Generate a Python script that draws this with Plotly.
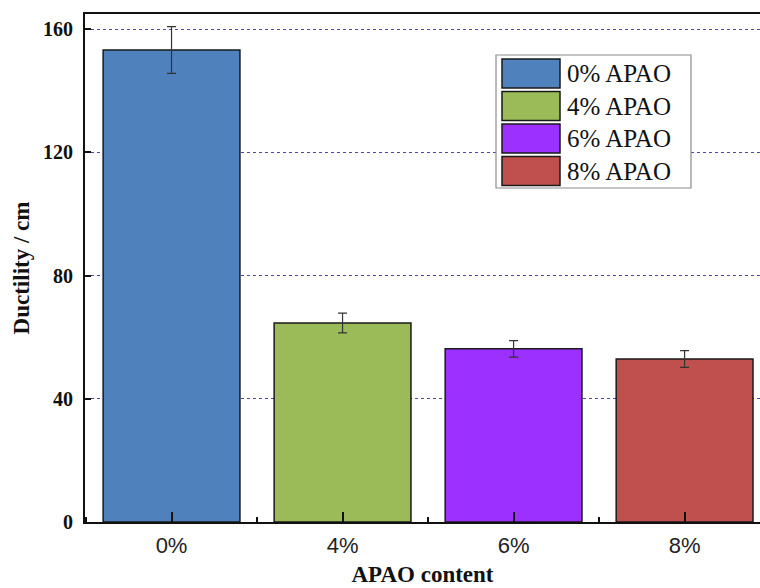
import plotly.graph_objects as go

# Ductility of asphalt binder vs APAO content
categories = ["0%", "4%", "6%", "8%"]
ductility = [153.2, 64.6, 56.2, 52.9]
ductility_err = [7.6, 3.2, 2.7, 2.7]
series_names = ["0% APAO", "4% APAO", "6% APAO", "8% APAO"]
bar_colors = ["#4f81bd", "#9bbb59", "#9b30ff", "#c0504d"]
y_ticks = [0, 40, 80, 120, 160]

W, H = 760, 588
ML, MR, MT, MB = 85, 0, 14, 66
PW, PH = W - ML - MR, H - MT - MB

serif = "Liberation Serif, Times New Roman, serif"
sans = "Liberation Sans, Arial, sans-serif"

fig = go.Figure()
fig.add_trace(go.Bar(
    x=list(range(len(categories))),
    y=ductility,
    width=0.8,
    marker=dict(color=bar_colors, line=dict(color="#1a1a1a", width=1.5)),
    error_y=dict(type="data", array=ductility_err, visible=True,
                 color="#333333", thickness=1.2, width=4.5),
    showlegend=False,
))


def px_x(px):
    return (px - ML) / PW


def px_y(py):
    return (MT + PH - py) / PH


# Legend box with large swatches
shapes = []
annotations = []
shapes.append(dict(type="rect", xref="paper", yref="paper",
                   x0=px_x(496), x1=px_x(691), y0=px_y(188), y1=px_y(55),
                   line=dict(color="#8c8c8c", width=1.2), fillcolor="white",
                   layer="above"))
row_top, row_h, pitch = 59, 29, 32.5
for i, (name, col) in enumerate(zip(series_names, bar_colors)):
    t = row_top + i * pitch
    shapes.append(dict(type="rect", xref="paper", yref="paper",
                       x0=px_x(502), x1=px_x(560), y0=px_y(t + row_h), y1=px_y(t),
                       line=dict(color="#1a1a1a", width=1.5), fillcolor=col,
                       layer="above"))
    annotations.append(dict(xref="paper", yref="paper", x=px_x(565),
                            y=px_y(t + row_h / 2), text=name, showarrow=False,
                            xanchor="left", yanchor="middle",
                            font=dict(family=serif, size=25, color="#111111")))

fig.update_layout(
    width=W, height=H,
    margin=dict(l=ML, r=MR, t=MT, b=MB),
    paper_bgcolor="white", plot_bgcolor="white",
    shapes=shapes, annotations=annotations,
    bargap=0.2,
)

fig.update_xaxes(
    range=[-0.506, 3.441], automargin=False,
    tickmode="array", tickvals=list(range(len(categories))), ticktext=categories,
    ticks="inside", ticklen=10, tickwidth=1.5, tickcolor="#111111",
    minor=dict(tickmode="linear", tick0=0.5, dtick=1, ticks="inside",
               ticklen=5, tickwidth=1.5, tickcolor="#111111"),
    showline=True, linecolor="#111111", linewidth=2, mirror=True,
    showgrid=False, zeroline=False,
    ticklabelstandoff=3,
    tickfont=dict(family=sans, size=22, color="#222222"),
    title=dict(text="APAO content", standoff=8,
               font=dict(family=serif, size=23, color="#111111", weight="bold")),
)

fig.update_yaxes(
    range=[0, 164.9], automargin=False,
    tickmode="array", tickvals=y_ticks,
    ticks="inside", ticklen=6, tickwidth=1.5, tickcolor="#111111",
    showline=True, linecolor="#111111", linewidth=2, mirror=False,
    showgrid=True, gridcolor="#4b4ba6", gridwidth=1, griddash="3px,3px",
    zeroline=False,
    ticklabelstandoff=6,
    tickfont=dict(family=serif, size=20, color="#111111", weight="bold"),
    title=dict(text="Ductility / cm", standoff=7,
               font=dict(family=serif, size=23, color="#111111", weight="bold")),
)

fig.write_html("out.html")
